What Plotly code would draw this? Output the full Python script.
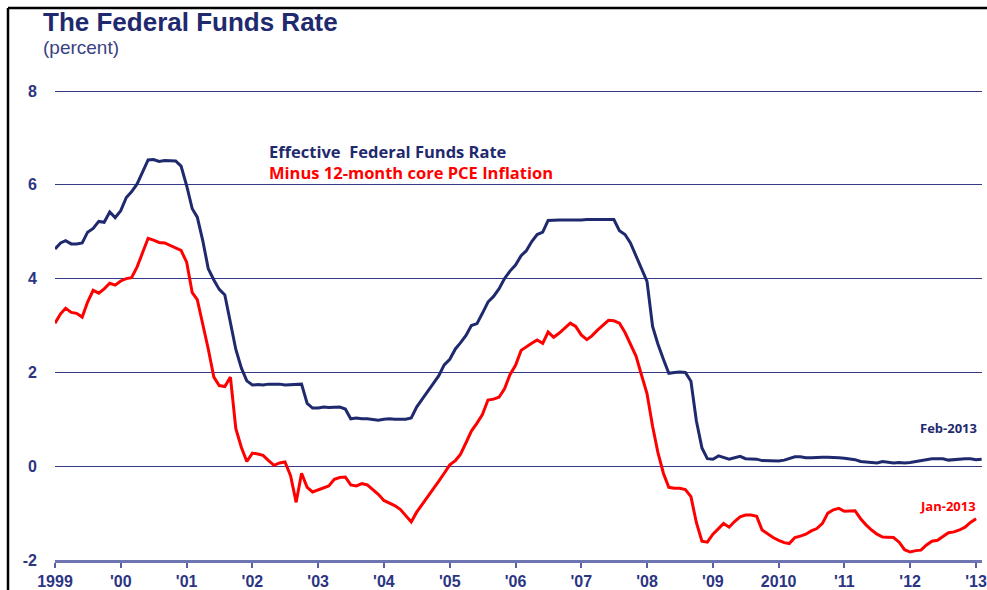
import pandas as pd
import plotly.graph_objects as go

# Monthly data, Jan 1999 - Feb 2013 (percent)
fed_funds = [
    4.63, 4.76, 4.81, 4.74, 4.74, 4.76, 4.99, 5.07, 5.22, 5.20, 5.42, 5.30,  # 1999
    5.45, 5.73, 5.85, 6.02, 6.27, 6.53, 6.54, 6.50, 6.52, 6.51, 6.51, 6.40,  # 2000
    5.98, 5.49, 5.31, 4.80, 4.21, 3.97, 3.77, 3.65, 3.07, 2.49, 2.09, 1.82,  # 2001
    1.73, 1.74, 1.73, 1.75, 1.75, 1.75, 1.73, 1.74, 1.75, 1.75, 1.34, 1.24,  # 2002
    1.24, 1.26, 1.25, 1.26, 1.26, 1.22, 1.01, 1.03, 1.01, 1.01, 1.00, 0.98,  # 2003
    1.00, 1.01, 1.00, 1.00, 1.00, 1.03, 1.26, 1.43, 1.61, 1.76, 1.93, 2.16,  # 2004
    2.28, 2.50, 2.63, 2.79, 3.00, 3.04, 3.26, 3.50, 3.62, 3.78, 4.00, 4.16,  # 2005
    4.29, 4.49, 4.59, 4.79, 4.94, 4.99, 5.24, 5.25, 5.25, 5.25, 5.25, 5.24,  # 2006
    5.25, 5.26, 5.26, 5.25, 5.25, 5.25, 5.26, 5.02, 4.94, 4.76, 4.49, 4.24,  # 2007
    3.94, 2.98, 2.61, 2.28, 1.98, 2.00, 2.01, 2.00, 1.81, 0.97, 0.39, 0.16,  # 2008
    0.15, 0.22, 0.18, 0.15, 0.18, 0.21, 0.16, 0.16, 0.15, 0.12, 0.12, 0.12,  # 2009
    0.11, 0.13, 0.16, 0.20, 0.20, 0.18, 0.18, 0.19, 0.19, 0.19, 0.19, 0.18,  # 2010
    0.17, 0.16, 0.14, 0.10, 0.09, 0.09, 0.07, 0.10, 0.08, 0.07, 0.08, 0.07,  # 2011
    0.08, 0.10, 0.13, 0.14, 0.16, 0.16, 0.16, 0.13, 0.14, 0.16, 0.16, 0.16,  # 2012
    0.14, 0.15,                                                              # 2013
]

# Fed funds minus 12-month core PCE inflation, Jan 1999 - Jan 2013
real_rate = [
    3.05, 3.25, 3.37, 3.28, 3.26, 3.18, 3.50, 3.75, 3.69, 3.78, 3.90, 3.86,
    3.95, 4.00, 4.02, 4.25, 4.55, 4.86, 4.82, 4.77, 4.76, 4.71, 4.65, 4.60,
    4.35, 3.70, 3.55, 3.05, 2.50, 1.90, 1.72, 1.70, 1.90, 0.80, 0.40, 0.10,
    0.28, 0.26, 0.23, 0.12, 0.02, 0.07, 0.09, -0.20, -0.77, -0.15, -0.45, -0.55,
    -0.50, -0.45, -0.42, -0.28, -0.24, -0.23, -0.40, -0.42, -0.37, -0.40, -0.50, -0.60,
    -0.73, -0.78, -0.84, -0.92, -1.05, -1.19, -0.98, -0.82, -0.64, -0.50, -0.32, -0.15,
    0.03, 0.12, 0.25, 0.50, 0.75, 0.92, 1.10, 1.41, 1.43, 1.47, 1.65, 1.95,
    2.15, 2.47, 2.55, 2.62, 2.69, 2.62, 2.86, 2.75, 2.84, 2.95, 3.05, 2.98,
    2.80, 2.70, 2.78, 2.90, 3.00, 3.11, 3.10, 3.05, 2.85, 2.62, 2.35, 1.95,
    1.55, 0.85, 0.30, -0.15, -0.45, -0.47, -0.47, -0.50, -0.65, -1.20, -1.60, -1.62,
    -1.45, -1.33, -1.22, -1.30, -1.18, -1.08, -1.04, -1.04, -1.07, -1.36, -1.45, -1.52,
    -1.58, -1.63, -1.65, -1.52, -1.49, -1.45, -1.38, -1.33, -1.22, -1.00, -0.93, -0.90,
    -0.96, -0.96, -0.95, -1.12, -1.25, -1.36, -1.45, -1.51, -1.51, -1.52, -1.62, -1.78,
    -1.83, -1.80, -1.79, -1.68, -1.60, -1.58, -1.50, -1.42, -1.40, -1.36, -1.30, -1.20,
    -1.12,
]

months = pd.date_range('1999-01-01', periods=len(fed_funds), freq='MS')

year_ticks = [f'{y}-01-01' for y in range(1999, 2014)]
year_labels = ['1999', "'00", "'01", "'02", "'03", "'04", "'05", "'06", "'07",
               "'08", "'09", '2010', "'11", "'12", "'13"]
y_ticks = [-2, 0, 2, 4, 6, 8]
y_labels = ['-2', '0', '2', '4', '6', '8']

NAVY = '#1f2a6e'
RED = '#ff0000'

# canvas + margins (pixels), used to place text in paper coords
W, H = 987, 590
L, R, T, B = 55, 5, 86, 30
pw, ph = W - L - R, H - T - B

def px_x(p):
    return (p - L) / pw

def px_y(p):
    return (H - B - p) / ph

fig = go.Figure()

fig.add_trace(go.Scatter(x=months, y=fed_funds, mode='lines',
                         line=dict(color=NAVY, width=3), name='Effective Federal Funds Rate'))
fig.add_trace(go.Scatter(x=months[:len(real_rate)], y=real_rate, mode='lines',
                         line=dict(color=RED, width=3), name='Minus 12-month core PCE Inflation'))

tick_font = dict(family='Liberation Sans, Arial', size=16, color='#2b3582', weight='bold')

fig.update_layout(
    width=W, height=H,
    margin=dict(l=L, r=R, t=T, b=B, autoexpand=False),
    paper_bgcolor='white', plot_bgcolor='white',
    showlegend=False,
    xaxis=dict(
        type='date', range=['1999-01-01', '2013-02-03'],
        tickvals=year_ticks, ticktext=year_labels,
        showgrid=False, zeroline=False, automargin=False,
        showline=True, linecolor='#6f74b3', linewidth=2.5,
        ticks='outside', ticklen=5, tickwidth=2, tickcolor='#5a5fa5',
        tickfont=tick_font,
    ),
    yaxis=dict(
        range=[-2, 8.107], tickvals=y_ticks, ticktext=y_labels,
        showgrid=True, gridcolor='#343a88', gridwidth=1.4,
        zeroline=False, showline=False, automargin=False,
        ticklabelstandoff=17,
        tickfont=tick_font,
    ),
)

# titles and in-chart labels
fig.add_annotation(text='<b>The Federal Funds Rate</b>', xref='paper', yref='paper',
                   x=px_x(41), y=px_y(22), xanchor='left', yanchor='middle', showarrow=False,
                   font=dict(family='Liberation Sans, Arial', size=26, color=NAVY))
fig.add_annotation(text='(percent)', xref='paper', yref='paper',
                   x=px_x(41), y=px_y(47), xanchor='left', yanchor='middle', showarrow=False,
                   font=dict(family='Liberation Sans, Arial', size=19, color='#3b4280'))
fig.add_annotation(text='<b>Effective&nbsp; Federal Funds Rate</b>', xref='paper', yref='paper',
                   x=px_x(267), y=px_y(151), xanchor='left', yanchor='middle', showarrow=False,
                   font=dict(family='Open Sans', size=16.5, color=NAVY))
fig.add_annotation(text='<b>Minus 12-month core PCE Inflation</b>', xref='paper', yref='paper',
                   x=px_x(267), y=px_y(172), xanchor='left', yanchor='middle', showarrow=False,
                   font=dict(family='Open Sans', size=16.5, color=RED))
fig.add_annotation(text='<b>Feb-2013</b>', xref='paper', yref='paper',
                   x=px_x(979), y=px_y(428), xanchor='right', yanchor='middle', showarrow=False,
                   font=dict(family='Open Sans', size=13, color=NAVY))
fig.add_annotation(text='<b>Jan-2013</b>', xref='paper', yref='paper',
                   x=px_x(978), y=px_y(506), xanchor='right', yanchor='middle', showarrow=False,
                   font=dict(family='Open Sans', size=13, color=RED))

# black frame on top and left edges of the picture
fig.add_shape(type='line', xref='paper', yref='paper',
              x0=px_x(8), y0=px_y(H), x1=px_x(8), y1=px_y(8),
              line=dict(color='black', width=2.5))
fig.add_shape(type='line', xref='paper', yref='paper',
              x0=px_x(8), y0=px_y(8), x1=px_x(W), y1=px_y(8),
              line=dict(color='black', width=2.5))

# drop the default page margin so the figure sits at the window's corner
fig.write_html('out.html', config={'displayModeBar': False},
               post_script="document.body.style.margin='0';")
